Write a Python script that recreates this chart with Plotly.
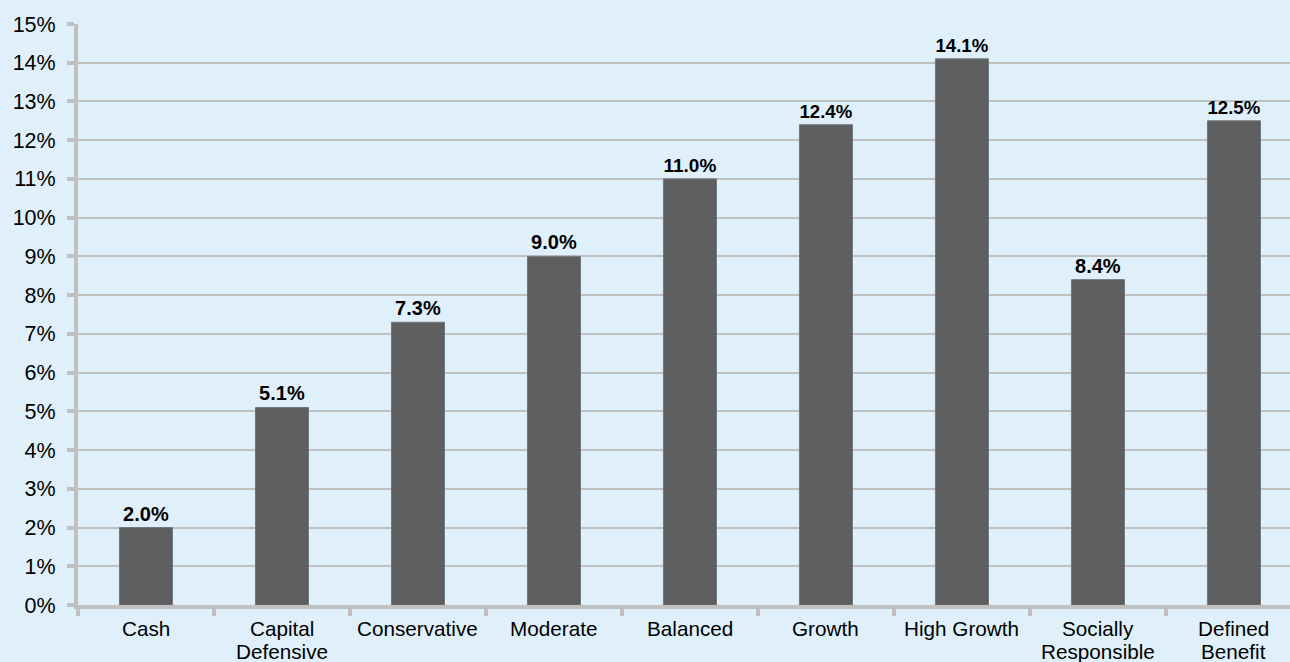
import plotly.graph_objects as go

categories = ["Cash", "Capital<br>Defensive", "Conservative", "Moderate", "Balanced",
              "Growth", "High Growth", "Socially<br>Responsible", "Defined<br>Benefit"]
values = [2.0, 5.1, 7.3, 9.0, 11.0, 12.4, 14.1, 8.4, 12.5]
y_ticks = list(range(0, 16))
y_tick_labels = [f"{v}%" for v in y_ticks]

fig = go.Figure(go.Bar(
    x=categories, y=values,
    marker=dict(color="#5E5E5E", line=dict(color="#707880", width=1)),
    width=0.39,
    texttemplate="<b>%{y:.1f}%</b>",
    textposition="outside",
    textfont=dict(family="Liberation Sans, Arial", size=20, color="black"),
    cliponaxis=False,
))

# category labels: one annotation per text line for tighter line spacing
line_gap = 23
for cat in categories:
    for i, part in enumerate(cat.split("<br>")):
        fig.add_annotation(
            x=cat, xref="x", y=0, yref="paper",
            text=part, showarrow=False,
            yanchor="middle", yshift=-23 - i * line_gap,
            font=dict(family="Liberation Sans, Arial", size=20.7, color="black"),
        )

fig.update_layout(
    width=1290, height=662,
    margin=dict(l=78, r=0, t=24, b=57, autoexpand=False),
    paper_bgcolor="#DFF0FA",
    plot_bgcolor="#DFF0FA",
    font=dict(family="Liberation Sans, Arial", size=21, color="black"),
    showlegend=False,
    bargap=0.6,
)
fig.update_xaxes(
    type="category",
    range=[-0.5, 8.412],
    tickson="boundaries",
    ticks="outside", ticklen=7, tickwidth=4, tickcolor="#C0C0C0",
    showline=True, linecolor="#C0C0C0", linewidth=4,
    showgrid=False,
    automargin=False,
    showticklabels=False,
)
fig.update_yaxes(
    range=[0, 15],
    tickvals=y_ticks, ticktext=y_tick_labels,
    ticks="outside", ticklen=7, tickwidth=4, tickcolor="#C0C0C0",
    showline=True, linecolor="#C0C0C0", linewidth=4,
    showgrid=True, gridcolor="#C0C0C0", gridwidth=2,
    zeroline=False,
    automargin=False,
    tickfont=dict(size=21.5),
    ticklabelstandoff=7,
)

fig.write_html("out.html")
